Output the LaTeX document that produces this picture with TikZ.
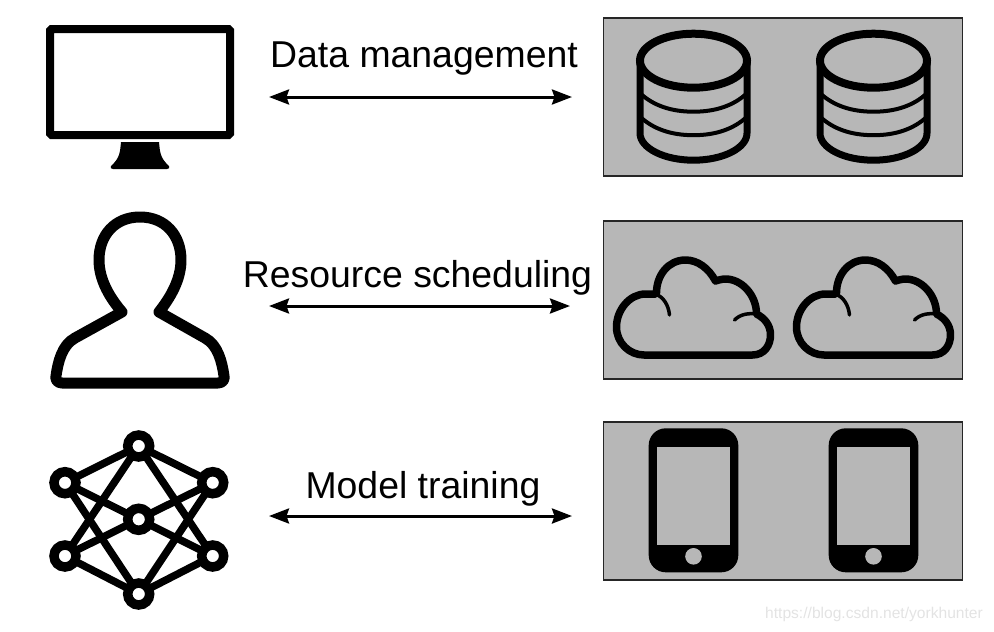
\documentclass[tikz,border=0pt]{standalone}
\usepackage{fontspec}
\setmainfont{Liberation Sans}
\usetikzlibrary{positioning,arrows.meta}

\definecolor{boxgrey}{HTML}{B7B7B7}
\tikzset{
    label/.style={font=\fontsize{37.4}{42}\selectfont, inner sep=0pt, outer sep=0pt},
    panel/.style={draw=black!85, line width=1.3pt, fill=boxgrey, minimum width=359pt, minimum height=158pt, inner sep=0pt, outer sep=0pt},
    link/.style={{Stealth[length=20pt,width=15pt,inset=2.5pt]}-{Stealth[length=20pt,width=15pt,inset=2.5pt]}, line width=3pt},
    neuron/.style={circle, draw, fill=white, line width=9.5pt, minimum size=22pt, inner sep=0pt, outer sep=0pt},
    dbpic/.pic={
        \draw [line width=7pt] (-53.5,0) -- (-53.5,72.5) .. controls (-53.5,87.4) and (-29.5,99.5) .. (0,99.5)
            .. controls (29.5,99.5) and (53.5,87.4) .. (53.5,72.5) -- (53.5,0);
        \draw [line width=8pt] (0,0) ellipse [x radius=53.5, y radius=27];
        \draw [line width=4pt] (-53.5,32.5) .. controls (-40,45) and (-22,51) .. (0,51) .. controls (22,51) and (40,45) .. (53.5,32.5);
        \draw [line width=4pt] (-53.5,56) .. controls (-40,68.5) and (-22,74.5) .. (0,74.5) .. controls (22,74.5) and (40,68.5) .. (53.5,56);
    },
    cloudpic/.pic={
        \draw [line width=7.5pt, line join=round] (-49.5,55) -- (59,55) .. controls (71,55) and (77,45) .. (77,35)
            .. controls (77,25) and (71,18) .. (63,14) .. controls (63,-5) and (48,-21) .. (32,-21)
            .. controls (29,-21) and (25,-20) .. (22,-19) .. controls (15,-32) and (4,-40) .. (-8,-40)
            .. controls (-25,-40) and (-37,-25) .. (-37,-7) -- (-38,-6) .. controls (-41,-6) and (-45,-6) .. (-48,-6)
            .. controls (-64,-6) and (-77,10) .. (-77,27) .. controls (-77,43) and (-64,55) .. (-49.5,55) -- cycle;
        \draw [line width=3.5pt, line cap=round] (-38,-6) .. controls (-30,-3) and (-25,5) .. (-24,15);
        \draw [line width=3.5pt, line cap=round] (41,20) .. controls (47,14) and (55,13) .. (63,14);
    },
    phonepic/.pic={
        \fill [rounded corners=17pt] (-44.8,-72) rectangle (44.8,72);
        \fill [boxgrey] (-36.3,-53.6) rectangle (36.3,45);
        \fill [boxgrey] (0,56) circle [radius=8.3];
    },
}

\begin{document}
\begin{tikzpicture}[x=1pt, y=-1pt]
    \useasboundingbox (0,0) rectangle (994,632);

    % left column
    \draw [line width=8pt, rounded corners=1.5pt] (50,29) rectangle (230,135);
    \fill (121,142) -- (159,142) .. controls (160,152) and (160,158) .. (169,166) .. controls (170,168) and (169,169) .. (167,169)
        -- (113,169) .. controls (111,169) and (110,168) .. (111,166) .. controls (120,158) and (120,152) .. (121,142) -- cycle;

    \draw [line width=11pt, line join=round] (140,217) .. controls (165,217) and (181,235) .. (181,260)
        .. controls (181,280) and (170,298) .. (159,312) -- (205,338) .. controls (218,345) and (222,362) .. (224,376)
        .. controls (225,380) and (222,383) .. (218,383) -- (62,383) .. controls (58,383) and (55,380) .. (56,376)
        .. controls (58,362) and (62,345) .. (75,338) -- (122,312) .. controls (110,298) and (99,280) .. (99,260)
        .. controls (99,235) and (115,217) .. (140,217) -- cycle;

    \coordinate (ntop) at (138.7,446);
    \coordinate (nbot) at (138.7,594);
    \coordinate (nlu) at (65,482.7);
    \coordinate (nll) at (65,556);
    \coordinate (nru) at (212.7,482.7);
    \coordinate (nrl) at (212.7,556);
    \coordinate (nmid) at (138.7,519.3);
    \foreach \a/\b in {ntop/nlu, ntop/nru, ntop/nll, ntop/nrl, nbot/nlu, nbot/nru, nbot/nll, nbot/nrl, nmid/nlu, nmid/nru, nmid/nll, nmid/nrl}
        \draw [line width=7.5pt] (\a) -- (\b);
    \foreach \a in {ntop, nbot, nlu, nll, nru, nrl, nmid}
        \node [neuron] (\a c) at (\a) {};

    % links
    \coordinate (dataa) at (269,97);
    \coordinate [right=303pt of dataa] (datab);
    \draw [link] (dataa) -- (datab);
    \node [label] (datal) at (424,59) {Data management};

    \coordinate (resa) at (269,306);
    \coordinate [right=301pt of resa] (resb);
    \draw [link] (resa) -- (resb);
    \node [label] (resl) at (417.5,278) {Resource scheduling};

    \coordinate (moda) at (269,516);
    \coordinate [right=303pt of moda] (modb);
    \draw [link] (moda) -- (modb);
    \node [label] (modl) at (423,489) {Model training};

    % right column
    \node [panel] (dbbox) at (783,97) {};
    \node [panel] (cloudbox) at (783,300) {};
    \node [panel] (phonebox) at (783,501) {};

    \foreach \x in {693.5,873.5} {
        \pic at (\x,60.7) {dbpic};
        \pic at (\x,300) {cloudpic};
        \pic at (\x,500.3) {phonepic};
    }

    \node [font=\fontsize{15.6}{18}\selectfont, text=black!11, inner sep=0pt] (mark) at (874,614) {https://blog.csdn.net/yorkhunter};
\end{tikzpicture}
\end{document}
